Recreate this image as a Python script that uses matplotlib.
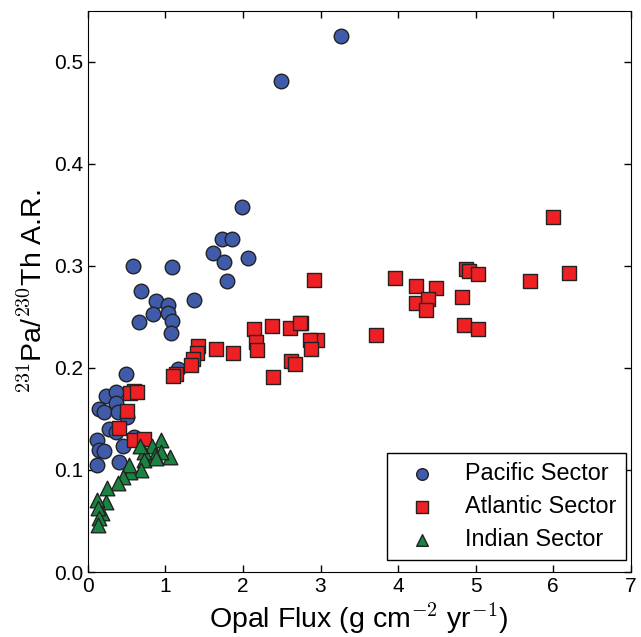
import matplotlib
matplotlib.use('Agg')
import matplotlib.pyplot as plt

plt.rcParams['font.family'] = ['Liberation Sans', 'DejaVu Sans']
plt.rcParams['mathtext.fontset'] = 'cm'

# Pacific sector (opal flux, Pa/Th)
pac_x = [3.27, 2.49, 1.99, 1.73, 1.86, 1.62, 1.75, 2.07, 1.80, 1.08, 1.37, 0.88, 1.03,
         0.84, 1.03, 1.08, 1.07, 0.58, 0.68, 0.66, 1.16, 0.49, 0.24, 0.36, 0.36, 0.14,
         0.21, 0.39, 0.50, 0.27, 0.36, 0.12, 0.14, 0.21, 0.46, 0.59, 0.12, 0.40]
pac_y = [0.525, 0.481, 0.358, 0.326, 0.326, 0.313, 0.304, 0.308, 0.285, 0.299, 0.267, 0.266, 0.262,
         0.253, 0.254, 0.246, 0.234, 0.300, 0.275, 0.245, 0.199, 0.194, 0.173, 0.176, 0.166, 0.160,
         0.157, 0.157, 0.152, 0.140, 0.137, 0.129, 0.120, 0.119, 0.124, 0.132, 0.105, 0.108]

# Atlantic sector
atl_x = [6.00, 6.20, 5.70, 4.88, 4.91, 5.03, 4.83, 4.85, 5.03, 3.96, 4.23, 4.49, 4.23,
         4.39, 4.36, 3.71, 2.91, 2.75, 2.95, 2.87, 2.88, 2.14, 2.37, 2.61, 2.73, 2.17,
         2.18, 1.65, 1.87, 2.39, 2.62, 2.67, 1.42, 1.41, 1.36, 1.33, 1.14, 1.10, 0.60,
         0.55, 0.64, 0.51, 0.40, 0.60, 0.73]
atl_y = [0.348, 0.293, 0.285, 0.297, 0.295, 0.292, 0.270, 0.242, 0.238, 0.288, 0.280, 0.278, 0.264,
         0.268, 0.257, 0.232, 0.286, 0.244, 0.227, 0.227, 0.219, 0.238, 0.241, 0.239, 0.244, 0.225,
         0.218, 0.219, 0.215, 0.191, 0.207, 0.204, 0.222, 0.215, 0.209, 0.203, 0.194, 0.192, 0.177,
         0.175, 0.176, 0.158, 0.141, 0.129, 0.130]

# Indian sector
ind_x = [0.95, 1.06, 0.83, 0.94, 0.86, 0.72, 0.67, 0.73, 0.69, 0.55, 0.53, 0.46, 0.39,
         0.25, 0.24, 0.12, 0.18, 0.13, 0.14, 0.13, 0.88]
ind_y = [0.129, 0.113, 0.124, 0.118, 0.115, 0.118, 0.124, 0.110, 0.100, 0.098, 0.105, 0.093, 0.087,
         0.082, 0.069, 0.071, 0.058, 0.063, 0.053, 0.046, 0.112]

fig = plt.figure(figsize=(6.41, 6.37), dpi=100)
ax = fig.add_axes([0.137, 0.102, 0.847, 0.881])

ax.scatter(pac_x, pac_y, s=110, marker='o', c='#3F5BA9', edgecolors='#222222',
           linewidths=1.0, label='Pacific Sector', zorder=3)
ax.scatter(atl_x, atl_y, s=105, marker='s', c='#EE2024', edgecolors='#222222',
           linewidths=1.0, label='Atlantic Sector', zorder=3)
ax.scatter(ind_x, ind_y, s=110, marker='^', c='#1B8342', edgecolors='#222222',
           linewidths=1.0, label='Indian Sector', zorder=3)

ax.set_xlim(0, 7)
ax.set_ylim(0, 0.55)
ax.set_xticks(range(0, 8))
ax.set_yticks([0.0, 0.1, 0.2, 0.3, 0.4, 0.5])
ax.set_yticklabels(['0.0', '0.1', '0.2', '0.3', '0.4', '0.5'])
ax.tick_params(direction='in', top=True, right=True, labelsize=15, length=5, width=1)

ax.set_xlabel(r'Opal Flux (g cm$^{-2}$ yr$^{-1}$)', fontsize=20.5)
ax.set_ylabel(r'$^{231}$Pa/$^{230}$Th A.R.', fontsize=20.5)

leg = ax.legend(loc='lower right', bbox_to_anchor=(0.991, 0.021), borderaxespad=0,
                scatterpoints=1, markerscale=0.8, fontsize=16.8,
                fancybox=False, edgecolor='black', framealpha=1, borderpad=0.4,
                handlelength=2.2, handletextpad=0.75, labelspacing=0.42)
leg.get_frame().set_linewidth(1.0)

fig.savefig('out.png', dpi=100)
